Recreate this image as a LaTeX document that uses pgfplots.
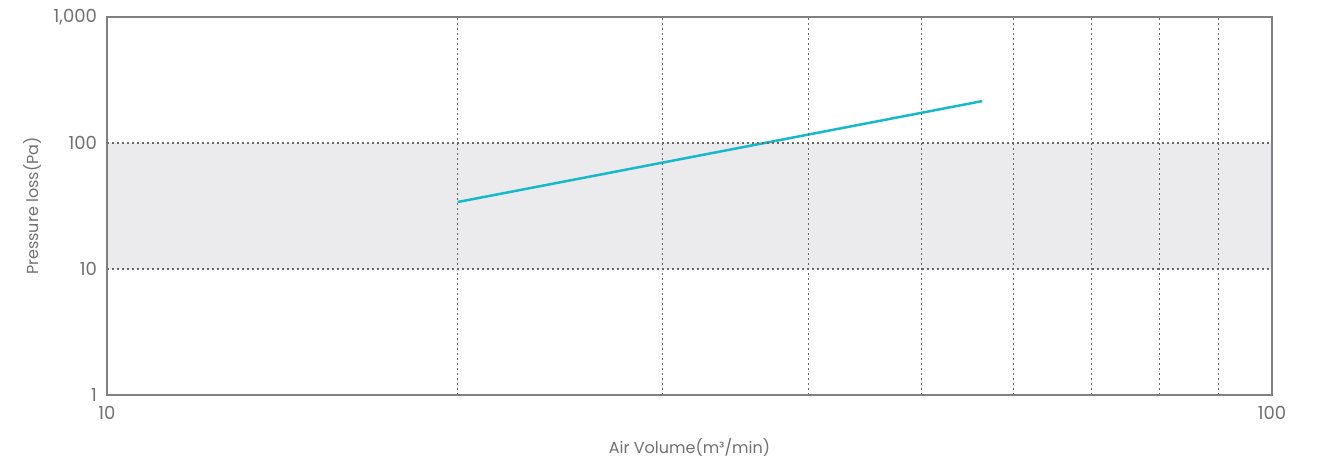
\documentclass[border=0pt]{standalone}
\usepackage{fontspec}
\setmainfont{Poppins}
\usepackage{pgfplots}
\pgfplotsset{compat=1.18}

\definecolor{txtgray}{HTML}{707070}
\definecolor{axgray}{HTML}{808080}
\definecolor{bandgray}{HTML}{EBEBED}
\definecolor{linecyan}{HTML}{17B8CA}

\begin{document}
\begin{tikzpicture}
\begin{axis}[
    xmode=log, ymode=log,
    scale only axis,
    width=582.5pt, height=189pt,
    xmin=10, xmax=100, ymin=1, ymax=1000,
    xtick={10,100}, ytick={1,10,100,1000},
    minor xtick={20,30,40,50,60,70,80,90},
    minor ytick={},
    log ticks with fixed point,
    /pgf/number format/1000 sep={,},
    /pgf/number format/assume math mode=true,
    major tick length=0pt, minor tick length=0pt,
    xminorgrids, ymajorgrids,
    grid style={dash pattern=on 1pt off 1.5pt, black!60, line width=0.55pt},
    minor grid style={dash pattern=on 1pt off 1.5pt, black!60, line width=0.55pt},
    axis line style={axgray, line width=0.7pt},
    axis on top,
    tick label style={font=\fontsize{9}{10}\selectfont, text=txtgray},
    xticklabel style={yshift=-2pt},
    yticklabel style={xshift=-1.5pt},
    every axis x label/.style={at={(axis description cs:0.5,0)}, anchor=center, yshift=-26pt},
    every axis y label/.style={at={(axis description cs:0,0.5)}, rotate=90, anchor=center, yshift=37pt},
    label style={font=\fontsize{8}{9}\selectfont, text=txtgray},
    xlabel={Air Volume(m³/min)},
    ylabel={Pressure loss(Pa)},
    clip=false,
]
\addplot[draw=none, fill=bandgray] coordinates {(10,10) (100,10) (100,100) (10,100)} -- cycle;
\addplot[linecyan, line width=1.25pt] coordinates {(20,34) (56.4,215)};
\coordinate (sw) at (axis cs:10,1);
\coordinate (ne) at (axis cs:100,1000);
\end{axis}
\pgfresetboundingbox
\path[use as bounding box] ([shift={(-53.5pt,-32pt)}]sw) rectangle ([shift={(23.5pt,8.5pt)}]ne);
\end{tikzpicture}
\end{document}
